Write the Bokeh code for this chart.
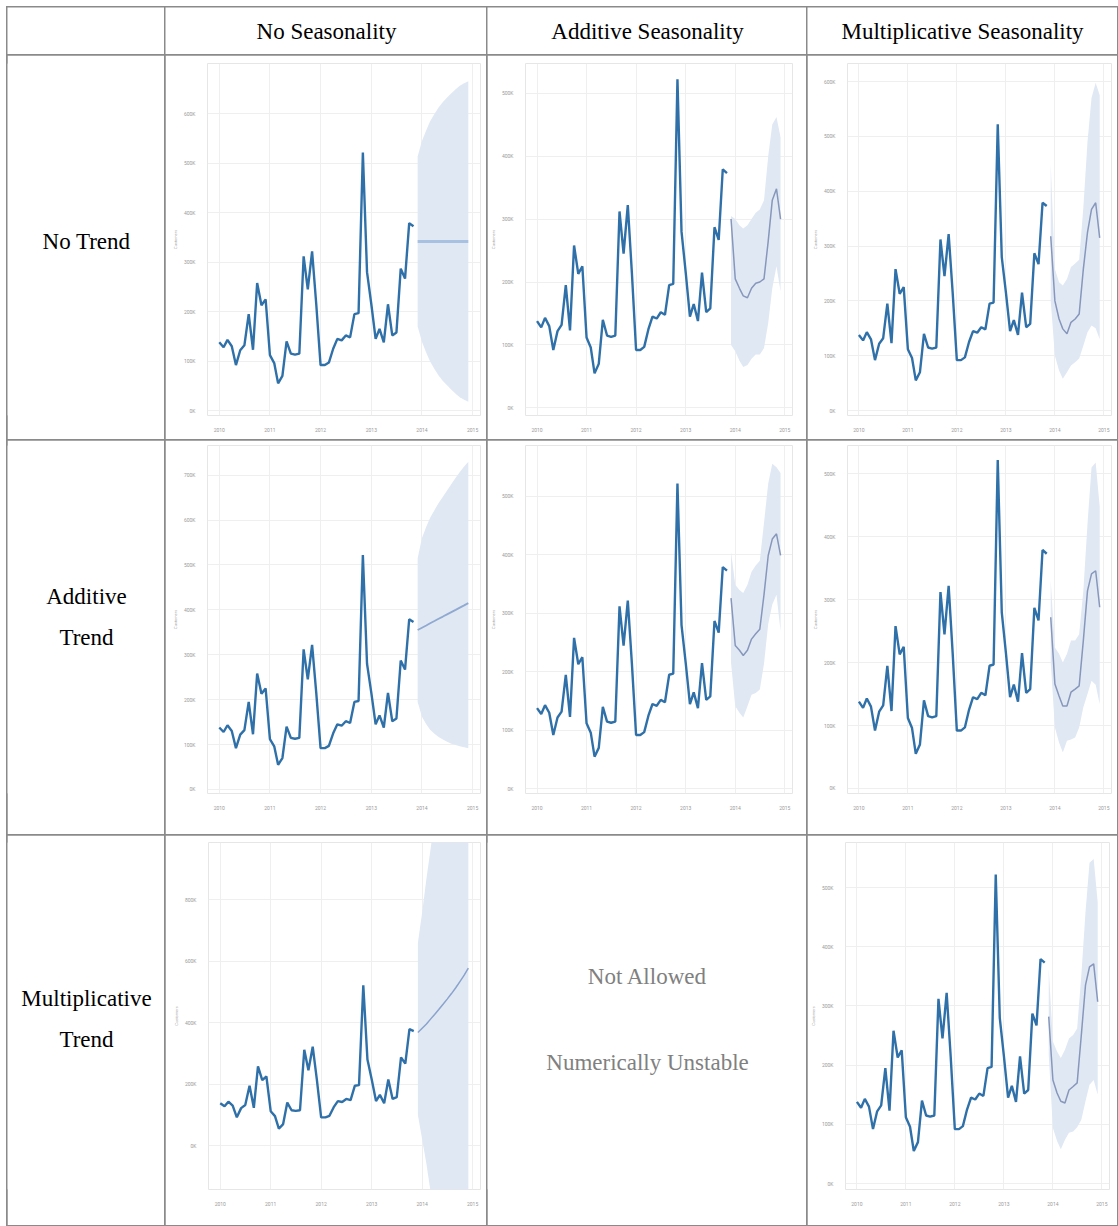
import pandas as pd
from bokeh.plotting import figure
from bokeh.layouts import row, column
from bokeh.models import Range1d, FixedTicker, PrintfTickFormatter, DatetimeTickFormatter, Spacer
from bokeh.core.properties import value
from bokeh.embed import file_html
from bokeh.resources import INLINE

# ---------------- data ----------------
col_headers = ["No Seasonality", "Additive Seasonality", "Multiplicative Seasonality"]
row_headers = [["No Trend"], ["Additive", "Trend"], ["Multiplicative", "Trend"]]
not_allowed_lines = ["Not Allowed", "Numerically Unstable"]
y_axis_title = "Customers"

year_ticks = [2010, 2011, 2012, 2013, 2014, 2015]

history_start = "2010-01-01"
customers_k = [
    138, 128, 143, 130, 92, 122, 132, 195, 123, 258, 213, 225,
    112, 96, 55, 70, 140, 115, 113, 115, 312, 245, 322, 215,
    92, 92, 97, 125, 145, 142, 152, 148, 195, 197, 522, 280,
    215, 145, 165, 138, 215, 152, 158, 287, 267, 379, 373,
]
forecast_start = "2013-12-01"

# No trend / no seasonality
nt_ns_mean = [342, 342, 342, 342, 342, 342, 342, 342, 342, 342, 342, 342, 342]
nt_ns_hi = [514, 545, 567, 585, 600, 613, 624, 633, 642, 650, 657, 662, 666]
nt_ns_lo = [170, 139, 117, 99, 84, 71, 60, 51, 42, 34, 27, 22, 18]
# No trend / additive seasonality
nt_as_mean = [300, 205, 190, 178, 175, 190, 198, 200, 205, 265, 330, 348, 300]
nt_as_hi = [305, 300, 290, 285, 290, 300, 310, 315, 330, 400, 450, 462, 430]
nt_as_lo = [100, 90, 75, 65, 68, 78, 85, 85, 95, 135, 190, 225, 185]
# No trend / multiplicative seasonality
nt_ms_mean = [318, 200, 167, 149, 140, 161, 167, 176, 258, 325, 367, 379, 315]
nt_ms_hi = [450, 258, 234, 228, 240, 262, 268, 275, 370, 490, 570, 598, 575]
nt_ms_lo = [200, 100, 73, 58, 70, 82, 88, 95, 118, 143, 155, 150, 130]
# Additive trend / no seasonality
at_ns_mean = [355, 360, 365, 370, 375, 380, 385, 390, 395, 400, 405, 410, 415]
at_ns_hi = [515, 560, 585, 605, 622, 638, 652, 666, 680, 694, 707, 719, 730]
at_ns_lo = [195, 162, 145, 133, 124, 117, 111, 106, 102, 99, 96, 94, 92]
# Additive trend / additive seasonality
at_as_mean = [326, 245, 237, 228, 237, 256, 265, 273, 332, 399, 427, 436, 399]
at_as_hi = [405, 349, 340, 335, 349, 371, 382, 390, 455, 522, 556, 550, 540]
at_as_lo = [215, 141, 130, 122, 141, 161, 164, 170, 214, 282, 315, 332, 270]
# Additive trend / multiplicative seasonality
at_ms_mean = [272, 166, 147, 131, 131, 153, 158, 163, 235, 314, 341, 346, 288]
at_ms_hi = [330, 224, 214, 200, 214, 235, 235, 245, 314, 420, 510, 518, 448]
at_ms_lo = [200, 97, 73, 57, 76, 78, 81, 97, 129, 150, 171, 165, 134]
# Multiplicative trend / no seasonality
mt_ns_mean = [368, 382, 396, 411, 427, 443, 460, 477, 495, 514, 534, 555, 578]
mt_ns_hi = [660, 760, 870, 960, 1060, 1170, 1290, 1420, 1560, 1710, 1870, 2040, 2220]
mt_ns_lo = [100, 20, -60, -145, -240, -340, -450, -570, -700, -840, -990, -1150, -1320]
# Multiplicative trend / multiplicative seasonality
mt_ms_mean = [282, 175, 153, 139, 136, 158, 164, 170, 251, 335, 366, 371, 307]
mt_ms_hi = [363, 240, 223, 212, 226, 245, 251, 262, 352, 458, 542, 548, 475]
mt_ms_lo = [217, 94, 72, 58, 74, 86, 88, 95, 108, 139, 167, 175, 150]

ticks_0_600 = [0, 100, 200, 300, 400, 500, 600]
ticks_0_500 = [0, 100, 200, 300, 400, 500]
ticks_0_700 = [0, 100, 200, 300, 400, 500, 600, 700]
ticks_0_800 = [0, 200, 400, 600, 800]

# ---------------- styling ----------------
OFFSET = 7
col_widths = [158, 322, 320, 310]
row_heights = [48, 385, 395, 390]
TABLE_LINE = {"outline": "2px solid #8a8a8a", "outline-offset": "-1px"}
HIST_COLOR = "#2f70a8"
BAND_COLOR = "#e0e8f4"
SERIF = value("Liberation Serif")

history_dates = pd.date_range(history_start, periods=len(customers_k), freq="MS")
forecast_dates = pd.date_range(forecast_start, periods=len(nt_ns_mean), freq="MS")
x_tick_ms = [pd.Timestamp(f"{y}-01-01").value / 1e6 for y in year_ticks]
X_START = pd.Timestamp("2009-10-08")
X_END = pd.Timestamp("2015-02-27")


def text_cell(w, h, lines=(), ys=(), color="#000000"):
    p = figure(width=w, height=h, x_range=Range1d(0, 1), y_range=Range1d(0, 1),
               output_backend="svg", toolbar_location=None, min_border=0,
               x_axis_location=None, y_axis_location=None)
    p.grid.visible = False
    p.outline_line_color = None
    p.background_fill_color = "white"
    p.border_fill_color = "white"
    if lines:
        p.text(x=[0.5] * len(lines), y=list(ys), text=list(lines),
               text_align="center", text_baseline="middle",
               text_font=SERIF, text_font_size="23px", text_color=color)
    p.styles = TABLE_LINE
    return p


def chart_cell(w, h, borders, yr, yticks, mean, lo, hi, fc_color, fc_width):
    L, R, T, B = borders
    p = figure(width=w, height=h, x_axis_type="datetime",
               x_range=Range1d(X_START, X_END), y_range=Range1d(*yr),
               output_backend="svg", toolbar_location=None,
               min_border_left=L, min_border_right=R, min_border_top=T, min_border_bottom=B)
    p.varea(x=forecast_dates, y1=lo, y2=hi, fill_color=BAND_COLOR, fill_alpha=1.0)
    p.line(x=forecast_dates, y=mean, line_color=fc_color, line_width=fc_width)
    p.line(x=history_dates, y=customers_k, line_color=HIST_COLOR, line_width=2.4)

    p.xaxis.ticker = FixedTicker(ticks=x_tick_ms)
    p.xaxis.formatter = DatetimeTickFormatter(
        years="%Y", months="%Y", days="%Y", hours="%Y", hourmin="%Y",
        minutes="%Y", minsec="%Y", seconds="%Y", milliseconds="%Y", microseconds="%Y")
    p.yaxis.ticker = FixedTicker(ticks=yticks)
    p.yaxis.formatter = PrintfTickFormatter(format="%dK")
    p.yaxis.axis_label = y_axis_title
    p.yaxis.axis_label_text_font_size = "4px"
    p.yaxis.axis_label_text_color = "#a0a0a0"
    p.yaxis.axis_label_text_font_style = "normal"
    p.yaxis.axis_label_standoff = 3
    for ax in (p.xaxis[0], p.yaxis[0]):
        ax.axis_line_color = None
        ax.major_tick_line_color = None
        ax.minor_tick_line_color = None
        ax.major_label_text_font_size = "5px"
        ax.major_label_text_color = "#9a9a9a"
        ax.major_label_text_font = "Roboto"
        ax.major_label_standoff = 6
    p.xgrid.grid_line_color = "#efefef"
    p.ygrid.grid_line_color = "#efefef"
    p.outline_line_color = "#e6e6e6"
    p.background_fill_color = "white"
    p.border_fill_color = "white"
    p.styles = TABLE_LINE
    return p


header = row(
    text_cell(col_widths[0], row_heights[0]),
    *[text_cell(col_widths[i + 1], row_heights[0], [col_headers[i]], [0.5]) for i in range(3)],
)

r1 = row(
    text_cell(col_widths[0], row_heights[1], row_headers[0], [0.494]),
    chart_cell(col_widths[1], row_heights[1], (42, 7, 8, 17), (-10, 702), ticks_0_600,
               nt_ns_mean, nt_ns_lo, nt_ns_hi, "#a9c1e0", 3),
    chart_cell(col_widths[2], row_heights[1], (37, 15, 8, 22), (-12, 547), ticks_0_500,
               nt_as_mean, nt_as_lo, nt_as_hi, "#8797bb", 1.5),
    chart_cell(col_widths[3], row_heights[1], (40, 6, 7, 25), (-9, 633), ticks_0_600,
               nt_ms_mean, nt_ms_lo, nt_ms_hi, "#8797bb", 1.5),
)

r2 = row(
    text_cell(col_widths[0], row_heights[2], row_headers[1], [0.565, 0.448]),
    chart_cell(col_widths[1], row_heights[2], (42, 7, 5, 27), (-9, 766), ticks_0_700,
               at_ns_mean, at_ns_lo, at_ns_hi, "#90a9d0", 1.8),
    chart_cell(col_widths[2], row_heights[2], (37, 15, 5, 36), (-8, 587), ticks_0_500,
               at_as_mean, at_as_lo, at_as_hi, "#8797bb", 1.5),
    chart_cell(col_widths[3], row_heights[2], (40, 6, 5, 42), (-8, 545), ticks_0_500,
               at_ms_mean, at_ms_lo, at_ms_hi, "#8797bb", 1.5),
)

r3 = row(
    text_cell(col_widths[0], row_heights[3], row_headers[2], [0.551, 0.431]),
    chart_cell(col_widths[1], row_heights[3], (43, 7, 3, 19), (-143, 987), ticks_0_800,
               mt_ns_mean, mt_ns_lo, mt_ns_hi, "#8aa3cc", 1.5),
    text_cell(col_widths[2], row_heights[3], not_allowed_lines, [0.615, 0.367], color="#808080"),
    chart_cell(col_widths[3], row_heights[3], (38, 8, 7, 36), (-10, 576), ticks_0_500,
               mt_ms_mean, mt_ms_lo, mt_ms_hi, "#8797bb", 1.5),
)

table = column(header, r1, r2, r3)
layout = column(Spacer(height=OFFSET), row(Spacer(width=OFFSET), table))

open("out.html", "w").write(file_html(layout, INLINE))
